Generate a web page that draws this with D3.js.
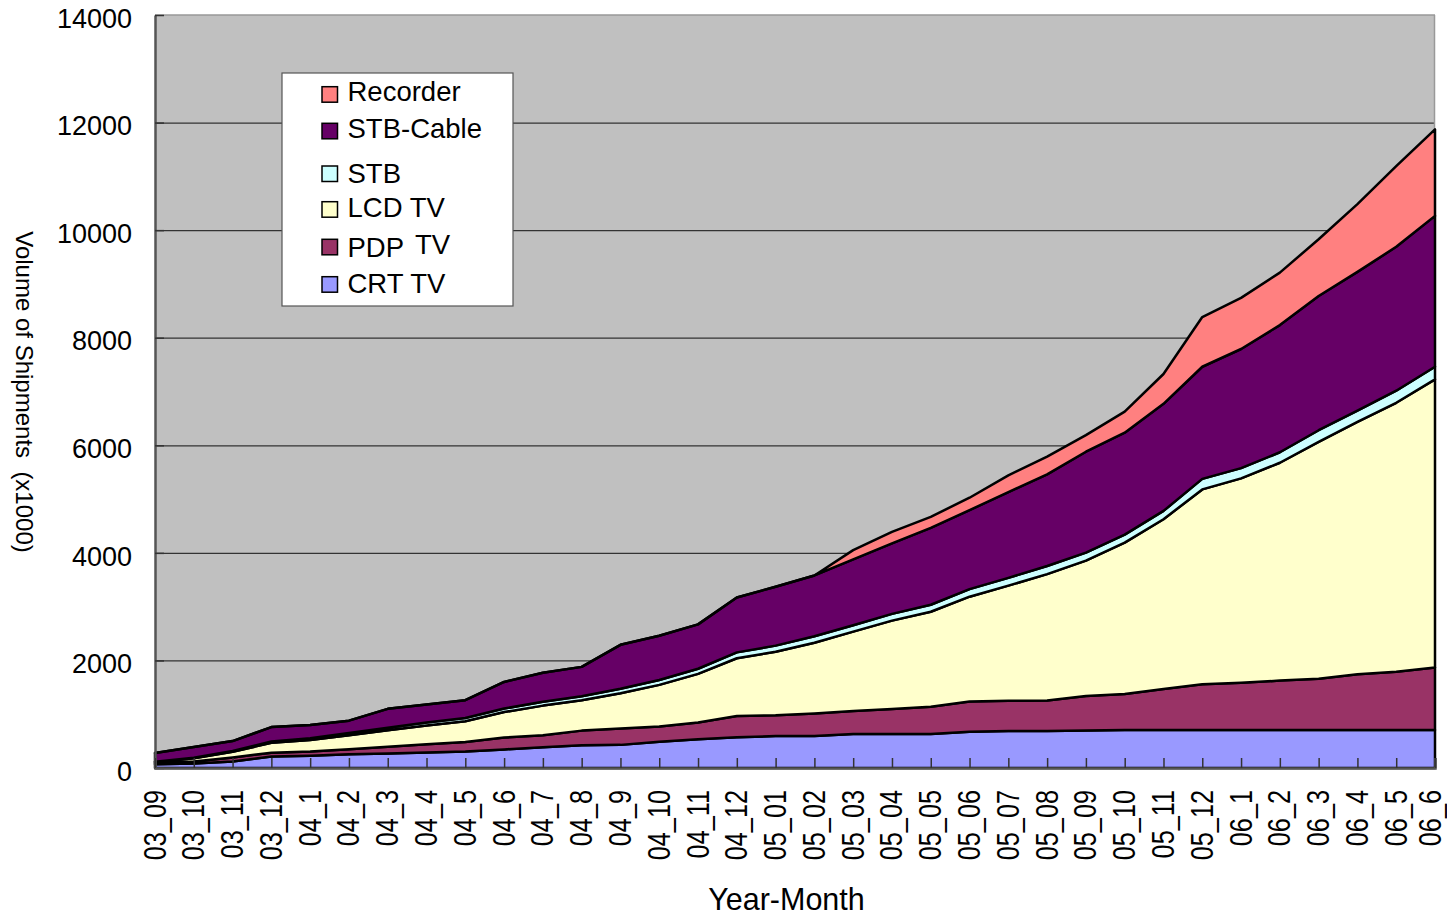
<!DOCTYPE html>
<html>
<head>
<meta charset="utf-8">
<script src="https://cdn.jsdelivr.net/npm/d3@7"></script>
<style>
  html, body { margin: 0; padding: 0; background: #fff; }
  svg { display: block; font-family: "Liberation Sans", Arial, sans-serif; }
</style>
</head>
<body>
<svg id="chart" width="1447" height="922"></svg>
<script>
// ---------------- data ----------------
const categories = ["03_09","03_10","03_11","03_12","04_1","04_2","04_3","04_4","04_5","04_6","04_7","04_8",
  "04_9","04_10","04_11","04_12","05_01","05_02","05_03","05_04","05_05","05_06","05_07","05_08",
  "05_09","05_10","05_11","05_12","06_1","06_2","06_3","06_4","06_5","06_6"];

const crtTV    = [70,85,120,215,230,255,270,290,305,345,385,425,430,490,535,570,595,595,630,630,630,675,690,690,695,705,705,705,705,705,705,705,705,705];
const pdpTV    = [20,35,75,70,75,95,125,150,180,220,225,270,305,280,310,395,385,420,430,465,510,560,560,565,645,670,765,850,880,920,955,1040,1085,1165];
const lcdTV    = [20,60,105,185,215,260,305,350,385,475,550,565,655,775,905,1075,1180,1315,1475,1645,1765,1950,2140,2350,2515,2815,3155,3625,3800,4050,4405,4690,5000,5355];
const stb      = [5,10,15,25,35,40,50,55,60,65,70,75,85,90,95,110,115,120,120,125,130,140,145,150,150,150,155,195,190,195,215,210,225,235];
const stbCable = [165,200,185,265,245,230,350,335,330,495,540,545,815,825,825,1020,1095,1130,1225,1310,1430,1470,1595,1705,1875,1895,1990,2085,2215,2365,2495,2580,2675,2805];
const recorder = [0,0,0,0,0,0,0,0,0,0,0,0,0,0,0,0,0,0,170,215,205,230,310,330,310,390,555,925,950,975,1055,1260,1500,1610];

const seriesNames  = ["CRT TV","PDP TV","LCD TV","STB","STB-Cable","Recorder"];
const seriesValues = [crtTV, pdpTV, lcdTV, stb, stbCable, recorder];
const seriesColors = ["#9999FF","#993366","#FFFFCC","#CCFFFF","#660066","#FF8080"];
const yTicks = [0,2000,4000,6000,8000,10000,12000,14000];

// ---------------- layout ----------------
const L = 155, R = 1435, T = 15, B = 768;
const svg = d3.select("#chart");

const x = d3.scalePoint().domain(categories).range([L, R]);
const y = d3.scaleLinear().domain([0, 14000]).range([B, T]);

const rows = categories.map((c, i) => {
  const o = { cat: c };
  seriesNames.forEach((n, k) => o[n] = seriesValues[k][i]);
  return o;
});
const stacked = d3.stack().keys(seriesNames)(rows);

// plot background
svg.append("rect").attr("x", L).attr("y", T).attr("width", R - L).attr("height", B - T)
  .attr("fill", "#C0C0C0");

// gridlines
svg.append("g")
  .attr("transform", `translate(${L},0)`)
  .call(d3.axisLeft(y).tickValues(yTicks.filter(v => v > 0 && v < 14000)).tickSize(-(R - L)).tickFormat(""))
  .call(g => g.select(".domain").remove())
  .call(g => g.selectAll("line").attr("stroke", "#333").attr("stroke-width", 1.2));

// border top / right
svg.append("line").attr("x1", L).attr("x2", R).attr("y1", T).attr("y2", T).attr("stroke", "#999").attr("stroke-width", 1.5);
svg.append("line").attr("x1", R - 0.5).attr("x2", R - 0.5).attr("y1", T).attr("y2", B).attr("stroke", "#999").attr("stroke-width", 1.5);

// areas
const area = d3.area()
  .x((d, i) => x(categories[i]))
  .y0(d => y(d[0]))
  .y1(d => y(d[1]));

svg.append("g").selectAll("path")
  .data(stacked)
  .join("path")
  .attr("d", area)
  .attr("fill", (d, i) => seriesColors[i])
  .attr("stroke", "#000")
  .attr("stroke-width", 2.5)
  .attr("stroke-linejoin", "round");

// left axis
const yAxis = svg.append("g")
  .attr("transform", `translate(${L},0)`)
  .call(d3.axisLeft(y).tickValues(yTicks).tickSize(0).tickPadding(23).tickFormat(d3.format("d")));
yAxis.select(".domain").attr("stroke", "#555").attr("stroke-width", 2.5);
yAxis.selectAll("text").attr("font-size", 27).attr("fill", "#000").attr("dy", "0.45em")
  .attr("font-family", "'Liberation Sans', Arial, sans-serif");
// inner y ticks
svg.append("g")
  .attr("transform", `translate(${L},0)`)
  .call(d3.axisRight(y).tickValues(yTicks).tickSize(9).tickFormat(""))
  .call(g => g.select(".domain").remove())
  .call(g => g.selectAll("line").attr("stroke", "#333").attr("stroke-width", 1.5));

// bottom axis
const xAxis = svg.append("g")
  .attr("transform", `translate(0,${B})`)
  .call(d3.axisBottom(x).tickSize(-10).tickPadding(0));
xAxis.select(".domain").attr("stroke", "#555").attr("stroke-width", 2.5);
xAxis.selectAll("line").attr("stroke", "#333").attr("stroke-width", 1.5);
const lastCat = categories[categories.length - 1];
xAxis.selectAll("text")
  .attr("font-size", 32).attr("fill", "#000")
  .attr("font-family", "'Liberation Sans', Arial, sans-serif")
  .attr("text-anchor", "end")
  .attr("y", 0).attr("dy", 0)
  .attr("transform", d => `translate(${d === lastCat ? 5 : 10},22) rotate(-90) scale(0.79,1)`);

// axis titles
svg.append("text").attr("x", 786.5).attr("y", 910).attr("text-anchor", "middle")
  .attr("font-size", 30.5).attr("fill", "#000").text("Year-Month");
svg.append("text").attr("transform", "translate(16,392) rotate(90)").attr("text-anchor", "middle")
  .attr("font-size", 24).attr("fill", "#000").attr("xml:space", "preserve")
  .style("white-space", "pre").text("Volume of Shipments  (x1000)");

// legend
const lg = svg.append("g");
lg.append("rect").attr("x", 282).attr("y", 73).attr("width", 231).attr("height", 233)
  .attr("fill", "#fff").attr("stroke", "#555").attr("stroke-width", 1.2);
const legendOrder = [5, 4, 3, 2, 1, 0];
const legendSqY = [86.7, 123.3, 166, 201.7, 239.3, 276.7];
const legendTxY = [100.7, 138.3, 183.3, 216.7, 256.7, 292.7];
legendOrder.forEach((k, j) => {
  lg.append("rect").attr("x", 322).attr("y", legendSqY[j]).attr("width", 15.5).attr("height", 15.5)
    .attr("fill", seriesColors[k]).attr("stroke", "#000").attr("stroke-width", 1.5);
  const t = lg.append("text").attr("x", 347.5).attr("y", legendTxY[j]).attr("font-size", 27.5).attr("fill", "#000");
  if (seriesNames[k] === "PDP TV") {
    t.append("tspan").text("PDP");
    t.append("tspan").attr("dx", 11).attr("dy", -2.5).text("TV");
  } else {
    t.text(seriesNames[k]);
  }
});
</script>
</body>
</html>
